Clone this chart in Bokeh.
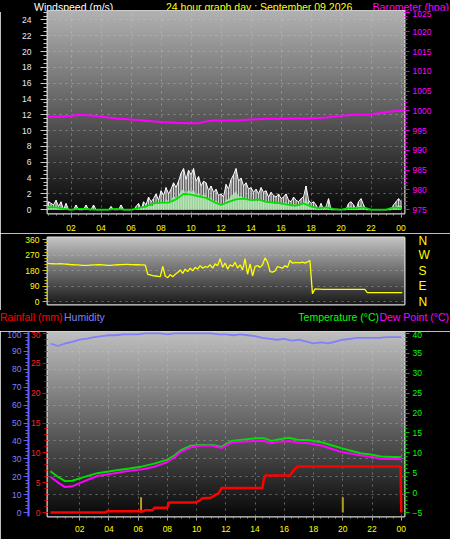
import numpy as np
from bokeh.plotting import figure
from bokeh.layouts import column
from bokeh.models import Range1d, LinearAxis, FixedTicker, Grid, Div
from bokeh.embed import file_html
from bokeh.resources import INLINE

# ---------------- data ----------------
title_text = "24 hour graph day : September 09 2026"
hour_ticks = [2, 4, 6, 8, 10, 12, 14, 16, 18, 20, 22, 24]
hour_labels = ["02", "04", "06", "08", "10", "12", "14", "16", "18", "20", "22", "00"]

t10 = [i / 6 for i in range(145)]          # 10-minute steps
wind_gust = [
    0.8, 1.0, 0.4, 1.0, 0.8, 0.6,
    1.2, 0.4, 1.0, 0.0, 0.8, 0.0,
    0.0, 0.0, 0.6, 0.0, 0.0, 0.0,
    0.6, 0.0, 0.0, 0.6, 0.0, 0.0,
    0.0, 0.0, 0.0, 0.0, 0.4, 0.0,
    0.0, 0.0, 0.6, 0.0, 0.0, 0.0,
    0.0, 0.0, 0.4, 0.8, 0.0, 1.0,
    0.6, 1.6, 1.0, 1.4, 2.0, 1.2,
    2.4, 1.8, 2.8, 2.0, 2.6, 3.4,
    2.8, 3.6, 4.6, 5.2, 3.8, 5.0,
    4.4, 5.2, 3.6, 4.2, 3.0, 3.6,
    3.4, 2.4, 3.0, 2.2, 2.6, 1.8,
    2.0, 1.6, 3.2, 2.6, 3.8, 4.4,
    5.2, 3.6, 4.0, 3.0, 3.4, 2.6,
    2.8, 2.2, 2.6, 2.0, 2.8, 2.2,
    2.4, 1.6, 2.2, 1.8, 1.6, 2.0,
    1.4, 1.6, 2.0, 1.2, 1.0, 1.6,
    1.2, 1.0, 1.4, 1.6, 3.0, 1.2,
    0.8, 1.0, 0.6, 0.0, 0.8, 0.0,
    0.4, 1.4, 0.0, 0.0, 0.0, 0.0,
    0.0, 0.0, 0.0, 0.8, 1.0, 0.6,
    0.0, 1.0, 1.4, 0.6, 0.0, 0.0,
    0.0, 0.0, 0.0, 0.0, 0.0, 0.0,
    0.0, 0.0, 0.0, 0.6, 1.0, 1.4,
    1.0,
]
wind_speed = [
    0.4, 0.6, 0.2, 0.4, 0.4, 0.2,
    0.6, 0.2, 0.4, 0.0, 0.4, 0.0,
    0.0, 0.0, 0.2, 0.0, 0.0, 0.0,
    0.2, 0.0, 0.0, 0.2, 0.0, 0.0,
    0.0, 0.0, 0.0, 0.0, 0.0, 0.0,
    0.0, 0.0, 0.2, 0.0, 0.0, 0.0,
    0.0, 0.0, 0.0, 0.2, 0.0, 0.4,
    0.2, 0.6, 0.4, 0.6, 1.0, 0.6,
    1.2, 0.8, 1.4, 1.0, 1.2, 1.8,
    1.4, 1.8, 2.4, 2.6, 2.0, 2.6,
    2.2, 2.6, 1.8, 2.2, 1.6, 2.0,
    1.8, 1.2, 1.6, 1.0, 1.2, 0.8,
    0.8, 0.6, 1.4, 1.2, 1.8, 2.0,
    2.4, 1.6, 1.8, 1.4, 1.6, 1.2,
    1.4, 1.0, 1.2, 1.0, 1.4, 1.0,
    1.2, 0.8, 1.0, 0.8, 0.8, 1.0,
    0.6, 0.8, 1.0, 0.6, 0.4, 0.8,
    0.6, 0.4, 0.6, 0.8, 1.6, 0.6,
    0.4, 0.4, 0.2, 0.0, 0.4, 0.0,
    0.2, 0.6, 0.0, 0.0, 0.0, 0.0,
    0.0, 0.0, 0.0, 0.4, 0.4, 0.2,
    0.0, 0.4, 0.6, 0.2, 0.0, 0.0,
    0.0, 0.0, 0.0, 0.0, 0.0, 0.0,
    0.0, 0.0, 0.0, 0.2, 0.4, 0.6,
    0.4,
]
t30 = [i / 2 for i in range(49)]           # 30-minute steps
wind_avg = [0.2, 0.3, 0.3, 0.1, 0.0, 0.1, 0.1, 0.0, 0.0, 0.0, 0.1, 0.0,
            0.0, 0.2, 0.4, 0.8, 0.9, 0.9, 1.3, 2.0, 1.9, 1.7, 1.5, 1.0,
            0.6, 1.0, 1.3, 1.4, 1.2, 1.3, 1.0, 0.9, 0.8, 0.6, 0.5, 0.8,
            0.4, 0.2, 0.3, 0.1, 0.0, 0.2, 0.2, 0.3, 0.0, 0.0, 0.0, 0.3, 0.2]

baro_t = [0, 1, 2, 2.5, 3, 4, 5, 6, 7, 8, 9, 10, 10.5, 11, 11.5, 12, 13, 14, 15,
          16, 17, 18, 19, 20, 21, 22, 23, 23.5, 24.2]
baro_hpa = [998.5, 998.5, 998.7, 999.0, 998.9, 998.6, 998.1, 997.8, 997.5, 997.2,
            997.0, 996.9, 996.9, 997.3, 997.6, 997.6, 997.6, 997.8, 998.0, 998.0,
            998.1, 998.1, 998.3, 998.8, 999.0, 999.1, 999.7, 999.9, 1000.1]

wind_dir = [
    225, 224, 223, 222, 221, 220,
    220, 221, 220, 219, 218, 216,
    215, 214, 214, 213, 212, 212,
    212, 213, 214, 214, 215, 215,
    214, 213, 212, 212, 213, 214,
    215, 216, 216, 217, 217, 216,
    216, 215, 215, 214, 214, 213,
    160, 156, 152, 150, 148, 146,
    205, 150, 140, 158, 145, 160,
    170, 185, 165, 190, 175, 195,
    180, 200, 190, 210, 195, 205,
    200, 215, 195, 220, 210, 250,
    200, 225, 190, 215, 205, 230,
    195, 215, 185, 250, 160, 220,
    150, 205, 210, 200, 215, 255,
    230, 175, 172, 180, 205, 200,
    195, 210, 200, 240, 225, 228,
    228, 226, 230, 225, 232, 240,
    48, 75, 74, 74, 73, 73,
    73, 73, 73, 73, 73, 73,
    73, 73, 73, 73, 73, 73,
    73, 73, 73, 72, 54, 54,
    54, 54, 54, 54, 54, 54,
    54, 54, 54, 54, 54, 54,
    54,
]
dir_ticks = [0, 90, 180, 270, 360]
dir_names = ["N", "E", "S", "W", "N"]

temp_t = [0, 0.5, 1.0, 1.5, 2.0, 3.2, 4.3, 5.4, 6.3, 7.1, 8.0, 8.5, 8.9, 9.3, 9.6,
          10.3, 11.1, 11.7, 12.4, 13.1, 14.2, 14.6, 15.1, 15.5, 16.3, 16.9, 17.7,
          18.6, 19.9, 21.2, 21.9, 22.6, 24.0]
temp_c = [5.4, 4.0, 2.9, 3.0, 3.6, 4.9, 5.5, 6.1, 6.6, 7.3, 8.3, 9.4, 10.6, 11.3, 11.8,
          12.0, 12.0, 11.5, 13.0, 13.3, 13.7, 13.7, 13.0, 13.3, 13.8, 13.3, 13.2,
          12.6, 11.2, 9.9, 9.6, 9.1, 8.9]
dew_c = [4.0, 2.6, 1.4, 1.6, 2.4, 4.2, 4.8, 5.5, 5.9, 6.5, 7.7, 8.9, 10.2, 10.9, 11.4,
         11.8, 11.8, 11.2, 12.6, 12.8, 13.0, 13.0, 12.4, 12.7, 13.0, 12.6, 12.4,
         11.8, 10.2, 9.4, 9.0, 8.5, 8.4]
humidity = [94.4, 93.0, 94.4, 95.3, 96.6, 97.1, 98.0, 98.5, 99.0, 99.0, 99.5, 99.5,
            99.5, 100, 100, 100, 99.5, 100, 100, 100, 100, 100, 100, 99.5,
            99.5, 99.0, 99.5, 99.0, 98.5, 97.5, 97.0, 96.5, 97.0, 96.0, 96.5, 95.5,
            94.5, 95.0, 94.5, 95.5, 96.5, 97.0, 97.5, 97.5, 97.5, 97.5, 98.0, 98.0, 98.0]
rain_t = [0, 3.8, 3.85, 6.4, 6.45, 7.0, 7.1, 8.0, 8.1, 9.9, 10.2, 10.4, 11.0, 11.1,
          11.3, 11.5, 11.7, 14.5, 14.6, 14.7, 16.4, 16.6, 16.9, 23.95, 24.0]
rain_mm = [0, 0, 0.2, 0.2, 0.4, 0.4, 0.8, 0.8, 1.7, 1.7, 2.0, 2.4, 2.5, 2.7, 3.0, 3.2,
           4.1, 4.1, 5.6, 6.2, 6.2, 7.0, 7.7, 7.7, 0]
sun_t = [6.2, 20.0]
sun_h = [8.5, 8.5]

# ---------------- helpers ----------------
FONT = "Liberation Sans"
hour_over = {t: s for t, s in zip(hour_ticks, hour_labels)}
W = 450


def frange(a, b, s):
    return [float(v) for v in np.round(np.arange(a, b + s / 2, s), 3)]


def base_fig(w, h, xr, yr, bl, br, bt, bb):
    p = figure(width=w, height=h, x_range=xr, y_range=yr, output_backend="svg",
               toolbar_location=None, x_axis_location=None, y_axis_location=None,
               min_border_left=bl, min_border_right=br, min_border_top=bt, min_border_bottom=bb,
               background_fill_color="black", border_fill_color="black",
               outline_line_color="#d8d8d8", outline_line_width=2)
    p.grid.visible = False
    return p


def header(h, items):
    spans = []
    for left, right, top, text, color in items:
        pos = f"left:{left}px;" if left is not None else f"right:{right}px;"
        spans.append(f'<span style="position:absolute;{pos}top:{top}px;color:{color};'
                     f'white-space:nowrap;">{text}</span>')
    html = (f'<div style="position:relative;width:{W}px;height:{h}px;background:#000;'
            f"font-family:'{FONT}';font-size:10.5px;line-height:10.5px;overflow:hidden;\">"
            + "".join(spans) + "</div>")
    return Div(text=html, width=W, height=h, margin=0,
               styles={"background-color": "black", "margin": "0", "padding": "0"})


def gradient(p, top, bottom):
    n = 256
    g = np.linspace(bottom, top, n).astype(np.uint32)
    img = (np.uint32(0xFF000000) | (g << 16) | (g << 8) | g).reshape(n, 1)
    xr, yr = p.x_range, p.y_range
    p.image_rgba(image=[img], x=xr.start, y=yr.start, dw=xr.end - xr.start,
                 dh=yr.end - yr.start, level="image")


def add_grid(p, dim, ticks, color="#c8c8c8", alpha=0.45):
    g = Grid(dimension=dim, ticker=FixedTicker(ticks=ticks), grid_line_color=color,
             grid_line_alpha=alpha, grid_line_dash="dotted", grid_line_width=1)
    p.add_layout(g)


def axis(ticks, minor, color, tick_color, size="8.5px", standoff=4, tick_out=5,
         minor_out=3, line_color=None, line_width=1, overrides=None, **kw):
    ax = LinearAxis(ticker=FixedTicker(ticks=ticks, minor_ticks=minor), **kw)
    ax.major_label_text_color = color
    ax.major_label_text_font = FONT
    ax.major_label_text_font_size = size
    ax.major_tick_line_color = tick_color
    ax.minor_tick_line_color = tick_color
    ax.major_tick_in = 0
    ax.major_tick_out = tick_out
    ax.minor_tick_in = 0
    ax.minor_tick_out = minor_out
    ax.major_label_standoff = standoff
    ax.axis_line_color = line_color
    ax.axis_line_width = line_width
    if overrides:
        ax.major_label_overrides = overrides
    return ax


# ---------------- header of top panel ----------------
ha = header(10, [(34, None, 0, "Windspeed (m/s)", "#ffffff"),
                 (166, None, 0, title_text, "#ffff00"),
                 (None, 1, 0, "Barometer (hpa)", "#ff00ff")])

# ---------------- top: wind speed + barometer ----------------
# frames of the three panels are aligned by the column (47 .. 404 px)
pa = base_fig(W, 223, Range1d(0.43, 24.23), Range1d(-0.48, 25.2), 47, 46, 0, 15)
pa.extra_y_ranges = {"baro": Range1d(974.04, 1025.4)}
gradient(pa, 178, 8)
add_grid(pa, 1, frange(2, 24, 2))
add_grid(pa, 0, hour_ticks)

pa.varea(x=t10, y1=0, y2=wind_gust, fill_color="#e0e0e0", fill_alpha=0.3)
pa.segment(x0=t10, y0=0, x1=t10, y1=wind_gust, line_color="#f0f0f0",
           line_width=1.2, line_alpha=0.85)
pa.line(t10, wind_gust, line_color="white", line_width=1)
pa.varea(x=t10, y1=0, y2=wind_speed, fill_color="#b0ecb0", fill_alpha=0.8)
pa.line(t30, wind_avg, line_color="#00e000", line_width=1.8)
pa.line(baro_t, baro_hpa, y_range_name="baro", line_color="#ff00ff", line_width=2)

pa.add_layout(axis(frange(0, 24, 2), frange(0, 25, 0.5), "#e4e8ff", "#c8c8c8",
                   tick_out=7, minor_out=4, standoff=9), "left")
pa.add_layout(axis(frange(975, 1025, 5), frange(975, 1025, 1), "#ff00ff", "#e000e0",
                   y_range_name="baro", standoff=3), "right")
pa.add_layout(axis(hour_ticks, frange(0.5, 24, 0.5), "#ffff00", "#a0a0a0",
                   tick_out=4, minor_out=2, standoff=7, overrides=hour_over), "below")

# ---------------- middle: wind direction ----------------
pb = base_fig(W, 77, Range1d(0.30, 24.15), Range1d(-15.2, 373), 47, 46, 4, 6)
gradient(pb, 195, 25)
add_grid(pb, 1, dir_ticks)
pb.line(t10, wind_dir, line_color="#ffff00", line_width=1.3)
pb.add_layout(axis(dir_ticks, frange(0, 360, 18), "#ffff00", "#c8c800", standoff=3), "left")
pb.add_layout(axis(dir_ticks, [], "#ffff00", "#000000", size="12px", standoff=14,
                   tick_out=0, minor_out=0,
                   overrides={t: s for t, s in zip(dir_ticks, dir_names)}), "right")

# ---------------- header of bottom panel ----------------
hc = header(21, [(0, None, 2, "Rainfall (mm)", "#ff0000"),
                 (64, None, 2, "Humidity", "#8080ff"),
                 (None, 71, 2, "Temperature (°C)", "#00ff00"),
                 (None, 1, 2, "Dew Point (°C)", "#ff00ff")])

# ---------------- bottom: rain, humidity, temperature ----------------
pc = base_fig(W, 208, Range1d(-0.2, 24.22), Range1d(-2.2, 101.1), 47, 46, 0, 23)
pc.extra_y_ranges = {"rain": Range1d(-0.66, 30.33), "temp": Range1d(-5.99, 40.5)}
gradient(pc, 192, 8)
add_grid(pc, 1, frange(10, 90, 10))
add_grid(pc, 0, hour_ticks)

pc.segment(x0=sun_t, y0=0, x1=sun_t, y1=sun_h, line_color="#b0a020", line_width=2)
pc.line(t30, humidity, line_color="#8080ff", line_width=1.8)
pc.line(temp_t, temp_c, y_range_name="temp", line_color="#00e000", line_width=2)
pc.line(temp_t, dew_c, y_range_name="temp", line_color="#ff00ff", line_width=2)
pc.line(rain_t, rain_mm, y_range_name="rain", line_color="#ff0000", line_width=2.5)

pc.add_layout(axis(frange(0, 30, 5), frange(0, 30, 1), "#ff2020", "#e00000",
                   y_range_name="rain", standoff=2), "left")
pc.add_layout(axis(frange(0, 100, 10), frange(0, 100, 2), "#8080ff", "#6060ff",
                   standoff=2, line_color="#6060ff", line_width=2), "left")
pc.add_layout(axis(frange(-5, 40, 5), frange(-5, 40, 1), "#00ff00", "#00c000",
                   y_range_name="temp", standoff=3), "right")
pc.add_layout(axis(hour_ticks, frange(0.5, 24, 0.5), "#ffff00", "#a0a0a0",
                   tick_out=4, minor_out=2, standoff=5, overrides=hour_over), "below")

layout = column(ha, pa, pb, hc, pc, spacing=0)
open("out.html", "w").write(file_html(layout, INLINE))
